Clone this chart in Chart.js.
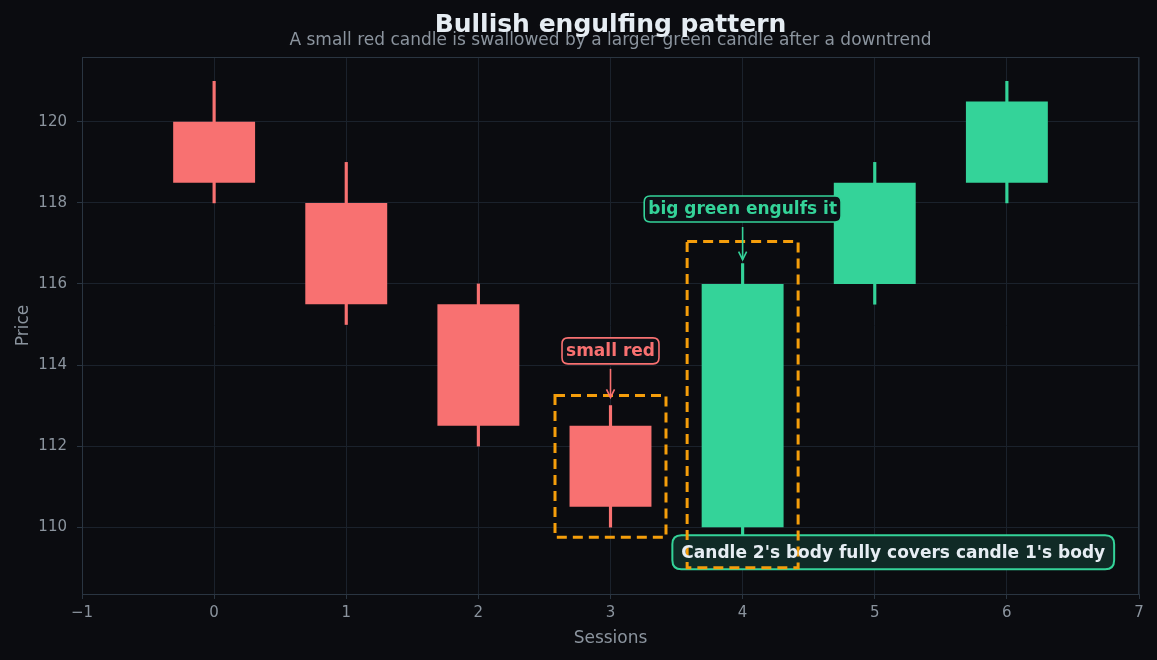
<!DOCTYPE html>
<html>
<head>
<meta charset="utf-8">
<script src="https://cdn.jsdelivr.net/npm/chart.js@4.4.1/dist/chart.umd.min.js"></script>
<style>
  html, body { margin: 0; padding: 0; background: #0b0c10; }
  #wrap { width: 1157px; height: 660px; }
</style>
</head>
<body>
<div id="wrap"><canvas id="c" width="1157" height="660"></canvas></div>
<script>
// ---- data ----
const sessions = [0, 1, 2, 3, 4, 5, 6];
const opens  = [120, 118, 115.5, 112.5, 110, 116, 118.5];
const closes = [118.5, 115.5, 112.5, 110.5, 116, 118.5, 120.5];
const highs  = [121, 119, 116, 113, 116.5, 119, 121];
const lows   = [118, 115, 112, 110, 109.5, 115.5, 118];
const xTicks = [-1, 0, 1, 2, 3, 4, 5, 6, 7];
const yTicks = [110, 112, 114, 116, 118, 120];
const titleText = 'Bullish engulfing pattern';
const subtitleText = 'A small red candle is swallowed by a larger green candle after a downtrend';
// highlight boxes: [x0, x1, y0, y1]
const boxCandle1 = [2.58, 3.42, 109.75, 113.25];
const boxCandle2 = [3.58, 4.42, 109.0, 117.05];
// annotations: text, label x, label y, arrow end y
const noteSmall = ['small red', 3, 114.35, 113.2];
const noteBig = ['big green engulfs it', 4, 117.85, 116.6];
const noteBottom = ["Candle 2's body fully covers candle 1's body", 5.14, 109.38];

const RED = '#f87171', GREEN = '#34d399', ORANGE = '#f59e0b';
const BG = '#0b0c10', GRID = '#1b222c', SPINE = '#2a3541', TXT = '#8b949e';

const colorsOf = sessions.map((s, i) => closes[i] >= opens[i] ? GREEN : RED);

const overlay = {
  id: 'overlay',
  beforeDraw(chart) {
    const ctx = chart.ctx;
    ctx.save();
    ctx.fillStyle = BG;
    ctx.fillRect(0, 0, chart.width, chart.height);
    ctx.restore();
  },
  afterDraw(chart) {
    const ctx = chart.ctx;
    const ca = chart.chartArea;
    const cx = (ca.left + ca.right) / 2;
    ctx.save();
    ctx.textAlign = 'center';
    ctx.textBaseline = 'middle';
    ctx.fillStyle = TXT;
    ctx.font = '17px "DejaVu Sans"';
    ctx.fillText(subtitleText, cx, 41);
    ctx.fillStyle = '#e6edf3';
    ctx.font = 'bold 25px "DejaVu Sans"';
    ctx.fillText(titleText, cx, 25);
    ctx.restore();
  },
  afterDatasetsDraw(chart) {
    const ctx = chart.ctx;
    const xs = chart.scales.x, ys = chart.scales.y;
    const ca = chart.chartArea;
    ctx.save();
    ctx.strokeStyle = SPINE;
    ctx.lineWidth = 1;
    ctx.strokeRect(ca.left + 0.5, ca.top + 0.5, ca.right - ca.left - 1, ca.bottom - ca.top);
    ctx.restore();

    function roundRect(x, y, w, h, r) {
      ctx.beginPath();
      ctx.moveTo(x + r, y);
      ctx.lineTo(x + w - r, y);
      ctx.quadraticCurveTo(x + w, y, x + w, y + r);
      ctx.lineTo(x + w, y + h - r);
      ctx.quadraticCurveTo(x + w, y + h, x + w - r, y + h);
      ctx.lineTo(x + r, y + h);
      ctx.quadraticCurveTo(x, y + h, x, y + h - r);
      ctx.lineTo(x, y + r);
      ctx.quadraticCurveTo(x, y, x + r, y);
      ctx.closePath();
    }
    function labelBox(text, cx, cy, color, fill, textColor, font, padX, padY, r, lw) {
      ctx.font = font;
      const w = ctx.measureText(text).width + padX * 2;
      const h = padY * 2;
      roundRect(cx - w / 2, cy - h / 2, w, h, r);
      ctx.fillStyle = fill;
      ctx.fill();
      ctx.lineWidth = lw;
      ctx.strokeStyle = color;
      ctx.stroke();
      return () => {
        ctx.font = font;
        ctx.fillStyle = textColor;
        ctx.textAlign = 'center';
        ctx.textBaseline = 'middle';
        ctx.fillText(text, cx, cy + 1);
      };
    }
    function arrow(x, y0, y1, color) {
      ctx.strokeStyle = color;
      ctx.lineWidth = 1.6;
      ctx.beginPath();
      ctx.moveTo(x, y0);
      ctx.lineTo(x, y1);
      ctx.stroke();
      ctx.beginPath();
      ctx.moveTo(x - 4, y1 - 8);
      ctx.lineTo(x, y1);
      ctx.lineTo(x + 4, y1 - 8);
      ctx.stroke();
    }
    ctx.save();
    const bx = xs.getPixelForValue(noteBottom[1]);
    const by = ys.getPixelForValue(noteBottom[2]);
    const drawBottomText = labelBox(noteBottom[0], bx, by, GREEN, '#102a26', '#e6edf3',
      'bold 17px "DejaVu Sans"', 9, 17, 9, 2);

    ctx.setLineDash([10, 6]);
    ctx.lineWidth = 3;
    ctx.strokeStyle = ORANGE;
    [boxCandle1, boxCandle2].forEach(b => {
      const x0 = xs.getPixelForValue(b[0]), x1 = xs.getPixelForValue(b[1]);
      const y0 = ys.getPixelForValue(b[2]), y1 = ys.getPixelForValue(b[3]);
      ctx.strokeRect(x0, y1, x1 - x0, y0 - y1);
    });
    ctx.setLineDash([]);
    drawBottomText();

    const sx = xs.getPixelForValue(noteSmall[1]);
    const sy = ys.getPixelForValue(noteSmall[2]);
    const t1 = labelBox(noteSmall[0], sx, sy, RED, '#0d1117', RED, 'bold 17px "DejaVu Sans"', 4, 13, 6, 1.6);
    t1();
    arrow(sx, sy + 18, ys.getPixelForValue(noteSmall[3]), RED);

    const gx = xs.getPixelForValue(noteBig[1]);
    const gy = ys.getPixelForValue(noteBig[2]);
    const t2 = labelBox(noteBig[0], gx, gy, GREEN, '#0d1117', GREEN, 'bold 17px "DejaVu Sans"', 4, 13, 6, 1.6);
    t2();
    arrow(gx, gy + 18, ys.getPixelForValue(noteBig[3]), GREEN);
    ctx.restore();
  }
};

new Chart(document.getElementById('c'), {
  data: {
    datasets: [
      {
        type: 'bar',
        label: 'wick',
        data: sessions.map((s, i) => ({ x: s, y: [lows[i], highs[i]] })),
        backgroundColor: colorsOf,
        barThickness: 2.5,
        grouped: false,
        order: 2
      },
      {
        type: 'bar',
        label: 'body',
        data: sessions.map((s, i) => ({ x: s, y: [opens[i], closes[i]] })),
        backgroundColor: colorsOf,
        barPercentage: 0.62,
        categoryPercentage: 1.0,
        grouped: false,
        order: 1
      }
    ]
  },
  options: {
    responsive: false,
    animation: false,
    layout: { padding: { left: 10, right: 18, top: 57, bottom: 8 } },
    plugins: {
      legend: { display: false },
      tooltip: { enabled: false },
      title: { display: false },
      subtitle: { display: false }
    },
    scales: {
      x: {
        type: 'linear',
        offset: false,
        min: -1, max: 7,
        afterBuildTicks(scale) { scale.ticks = xTicks.map(v => ({ value: v })); },
        ticks: {
          color: TXT,
          font: { family: 'DejaVu Sans', size: 15 },
          padding: 5,
          callback: v => String(v).replace('-', '\u2212')
        },
        grid: { color: GRID, tickColor: SPINE, tickLength: 5, drawTicks: true, offset: false },
        border: { color: SPINE },
        title: {
          display: true, text: 'Sessions', color: TXT,
          font: { family: 'DejaVu Sans', size: 17 }, padding: { top: 2, bottom: 3 }
        },
        afterFit(scale) { scale.height = 58; }
      },
      y: {
        type: 'linear',
        min: 108.35, max: 121.6,
        afterBuildTicks(scale) { scale.ticks = yTicks.map(v => ({ value: v })); },
        ticks: {
          color: TXT,
          font: { family: 'DejaVu Sans', size: 15 },
          padding: 10
        },
        grid: { color: GRID, tickColor: SPINE, tickLength: 5 },
        border: { color: SPINE },
        title: {
          display: true, text: 'Price', color: TXT,
          font: { family: 'DejaVu Sans', size: 17 }, padding: { top: 3, bottom: 8 }
        },
        afterFit(scale) { scale.width = 72; }
      }
    }
  },
  plugins: [overlay]
});
</script>
</body>
</html>
